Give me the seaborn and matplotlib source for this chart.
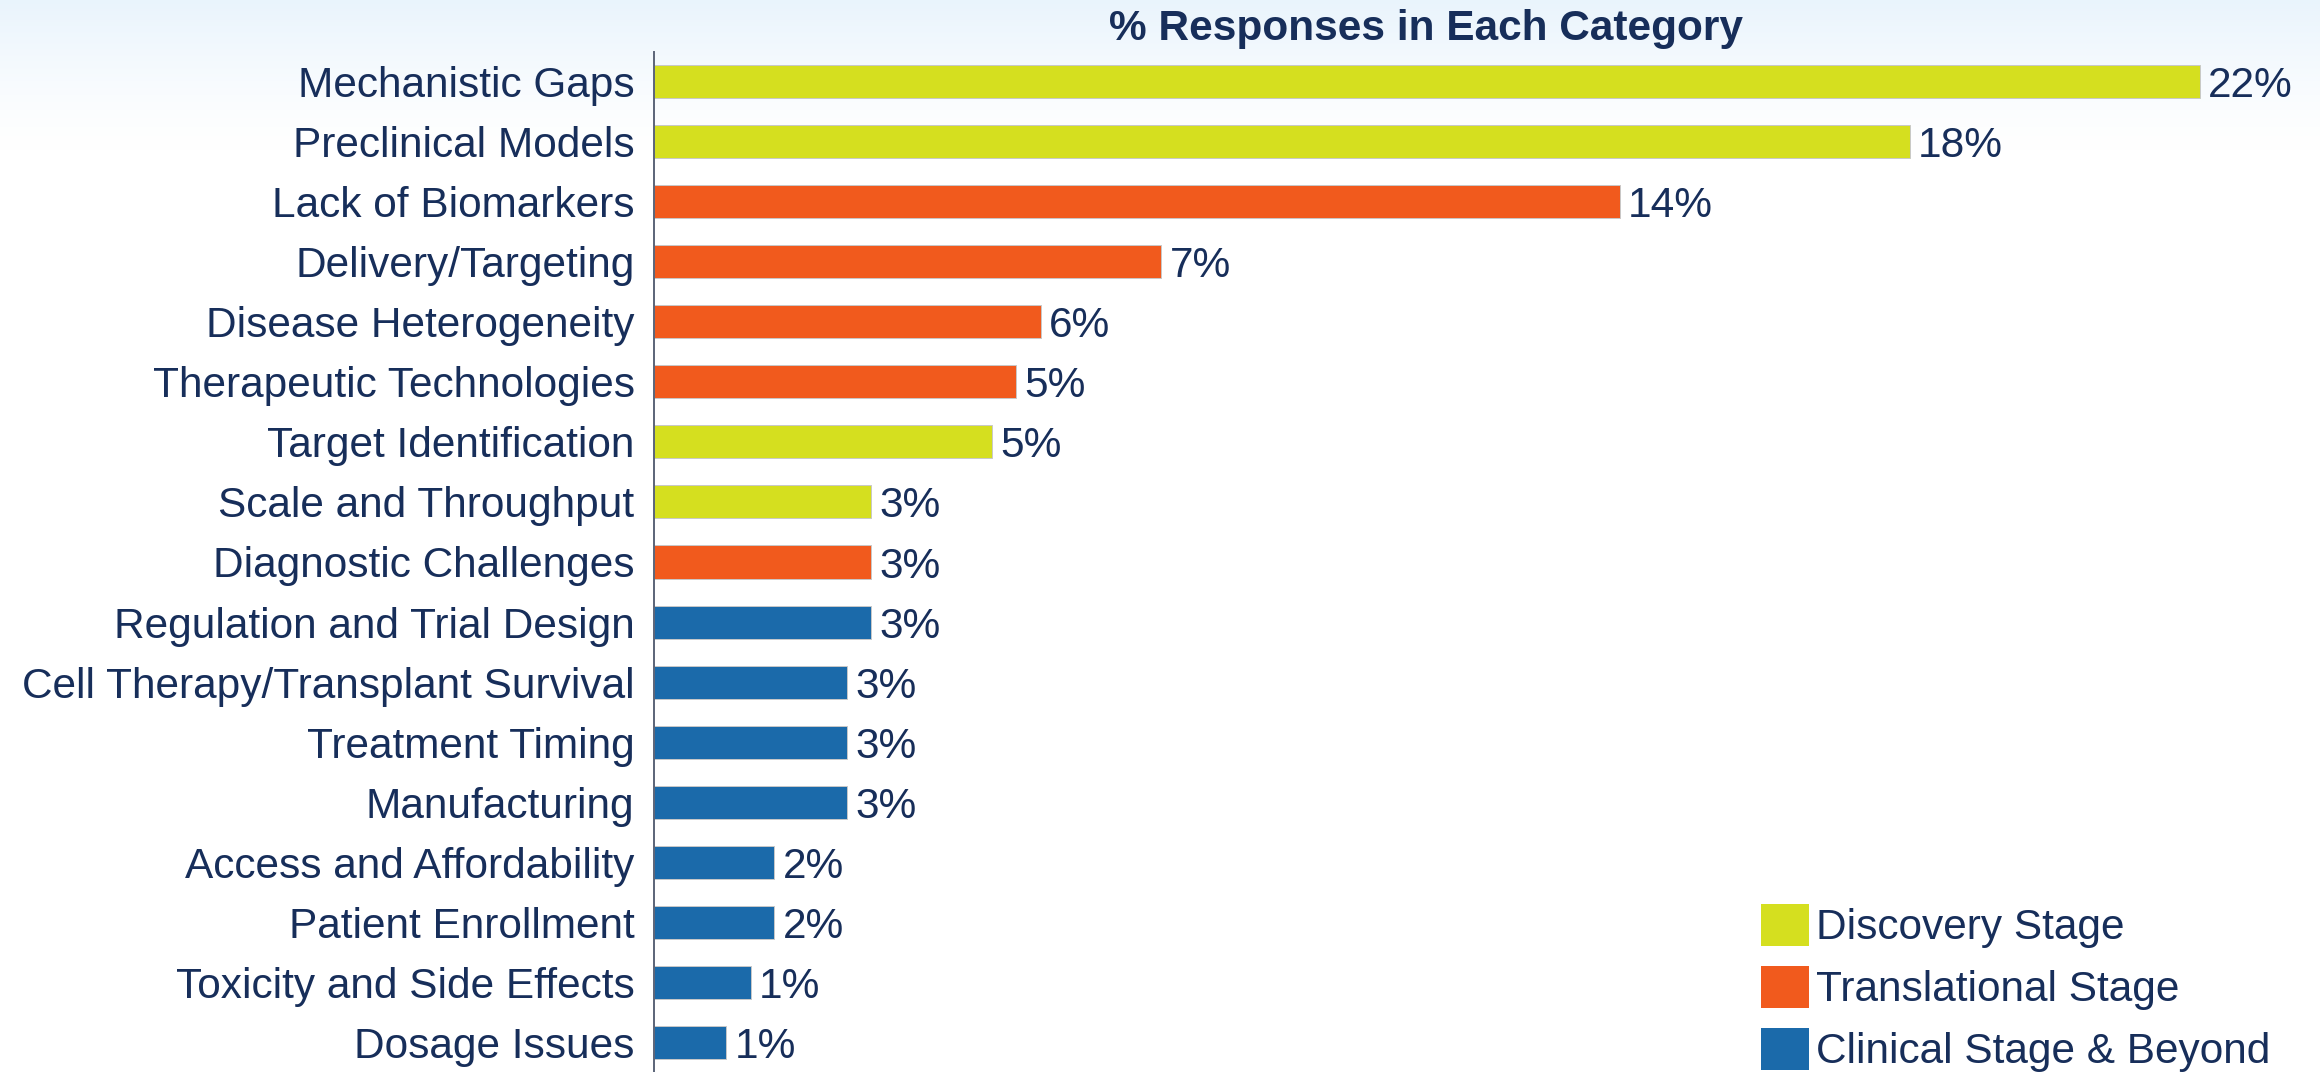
import numpy as np
import pandas as pd
import matplotlib
matplotlib.use("Agg")
import matplotlib.pyplot as plt
from matplotlib.patches import Patch
import seaborn as sns

# Survey categories (top to bottom), their share of responses and stage
categories = [
    "Mechanistic Gaps", "Preclinical Models", "Lack of Biomarkers",
    "Delivery/Targeting", "Disease Heterogeneity", "Therapeutic Technologies",
    "Target Identification", "Scale and Throughput", "Diagnostic Challenges",
    "Regulation and Trial Design", "Cell Therapy/Transplant Survival",
    "Treatment Timing", "Manufacturing", "Access and Affordability",
    "Patient Enrollment", "Toxicity and Side Effects", "Dosage Issues",
]
percent = [22.07, 17.93, 13.79, 7.24, 5.52, 5.17, 4.83, 3.10, 3.10, 3.10,
           2.76, 2.76, 2.76, 1.72, 1.72, 1.38, 1.03]
stage = [
    "Discovery Stage", "Discovery Stage", "Translational Stage",
    "Translational Stage", "Translational Stage", "Translational Stage",
    "Discovery Stage", "Discovery Stage", "Translational Stage",
    "Clinical Stage & Beyond", "Clinical Stage & Beyond", "Clinical Stage & Beyond",
    "Clinical Stage & Beyond", "Clinical Stage & Beyond", "Clinical Stage & Beyond",
    "Clinical Stage & Beyond", "Clinical Stage & Beyond",
]
stage_order = ["Discovery Stage", "Translational Stage", "Clinical Stage & Beyond"]
stage_colors = {"Discovery Stage": "#D5DF1F",
                "Translational Stage": "#F15A1D",
                "Clinical Stage & Beyond": "#1B6AAA"}
title = "% Responses in Each Category"

NAVY = "#172E5A"
FS = 30.5

sns.set_theme(style="white")
plt.rcParams["font.family"] = ["Liberation Sans", "DejaVu Sans"]

df = pd.DataFrame({"category": categories, "percent": percent, "stage": stage})

fig = plt.figure(figsize=(23.2, 10.72), dpi=100)

# soft blue wash across the top of the canvas
bg = fig.add_axes([0, 0, 1, 1], zorder=-10)
h = 1072
ramp = np.clip(1 - np.arange(h) / 150.0, 0, 1) ** 1.3
top_rgb = np.array([0.915, 0.957, 0.99])
img = 1 - (1 - top_rgb)[None, None, :] * ramp[:, None, None]
img = np.repeat(img, 4, axis=1)
bg.imshow(img, aspect="auto", extent=[0, 1, 0, 1], origin="upper")
bg.set_axis_off()

ax = fig.add_axes([654 / 2320, 0, 1 - 654 / 2320, 1020 / 1072])
ax.set_facecolor("none")

sns.barplot(data=df, x="percent", y="category", hue="stage", order=categories,
            hue_order=stage_order, palette=stage_colors, saturation=1,
            dodge=False, width=0.55, orient="h", legend=False,
            edgecolor="#c8c8c8", linewidth=0.7, ax=ax)

ax.set_xlim(0, (2320 - 654) / 70.04)
ax.set_ylim(16.49, -0.49)
ax.set_xlabel("")
ax.set_ylabel("")
ax.set_xticks([])
for side in ("top", "right", "bottom"):
    ax.spines[side].set_visible(False)
ax.spines["left"].set_color("#5B6478")
ax.spines["left"].set_linewidth(1.4)
ax.tick_params(axis="y", length=0, pad=14, labelsize=FS, labelcolor=NAVY)

for cont in ax.containers:
    texts = ax.bar_label(cont, fmt=lambda v: f"{v:.0f}%", padding=6,
                         fontsize=FS, color=NAVY)
    for t in texts:
        t.set_verticalalignment("center_baseline")

fig.text(1426 / 2320, 1 - 40 / 1072, title, ha="center", va="baseline",
         fontsize=FS, fontweight="bold", color=NAVY)

handles = [Patch(facecolor=stage_colors[s], edgecolor="none") for s in stage_order]
ax.legend(handles, stage_order, loc="upper left",
          bbox_to_anchor=(1761 / 2320, 1 - 904 / 1072),
          bbox_transform=fig.transFigure, frameon=False, fontsize=FS,
          labelcolor=NAVY, handlelength=1.13, handleheight=1.16,
          handletextpad=0.17, labelspacing=0.41, borderpad=0, borderaxespad=0)

fig.savefig("out.png", dpi=100)
